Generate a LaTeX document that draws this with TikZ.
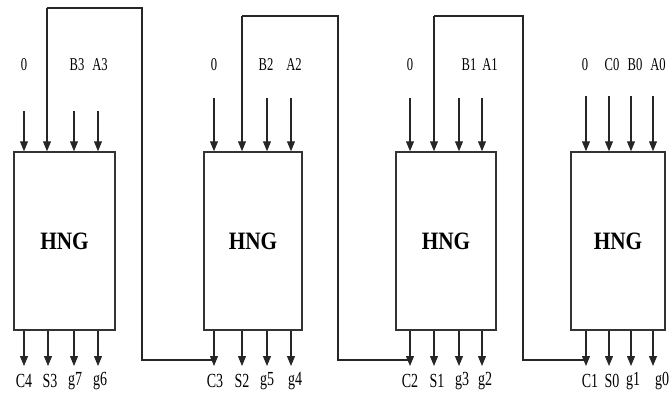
\documentclass[tikz,border=0pt]{standalone}
\usepackage{fontspec}
\setmainfont{Liberation Serif}
\newfontfamily\sigfont[FakeStretch=0.7]{Liberation Serif}
\newfontfamily\hngfont[FakeStretch=0.85]{Liberation Serif}
\usetikzlibrary{arrows.meta}

\begin{document}
\begin{tikzpicture}[x=1pt, y=-1pt,
		hng/.style={draw=black!80, line width=1.5pt, minimum height=178pt, inner sep=0pt,
			font=\hngfont\fontsize{25}{27}\selectfont\bfseries},
		sig/.style={inner sep=1pt, font=\sigfont\fontsize{18}{20}\selectfont},
		sigout/.style={sig, font=\sigfont\fontsize{20}{22}\selectfont},
		pin/.style={draw=black!85, line width=1.1pt, -{Triangle[length=10pt,width=8pt]}},
		wire/.style={draw=black!85, line width=1.3pt}]
		\useasboundingbox (0,0) rectangle (670,397);
		
		% The four HNG cells
		\node[hng, minimum width=101pt] (hngA) at (64.5,241) {HNG};
		\node[hng, minimum width=98pt] (hngB) at (253,241) {HNG};
		\node[hng, minimum width=100pt] (hngC) at (446,241) {HNG};
		\node[hng, minimum width=94pt] (hngD) at (618,241) {HNG};
		
		% Input labels
		\node[sig] (lA1) at (24,65) {0};
		\node[sig] (lA3) at (77,65) {B3};
		\node[sig] (lA4) at (100,65) {A3};
		\node[sig] (lB1) at (214,65) {0};
		\node[sig] (lB3) at (266,65) {B2};
		\node[sig] (lB4) at (294,65) {A2};
		\node[sig] (lC1) at (410,65) {0};
		\node[sig] (lC3) at (469,65) {B1};
		\node[sig] (lC4) at (490,65) {A1};
		\node[sig] (lD1) at (585,65) {0};
		\node[sig] (lD2) at (612,65) {C0};
		\node[sig] (lD3) at (635,65) {B0};
		\node[sig] (lD4) at (658,65) {A0};
		
		% Input arrows
		\foreach \x [count=\i] in {24,47,74,98} \coordinate (inA\i) at (\x,111);
		\foreach \x [count=\i] in {214,242,267,291} \coordinate (inB\i) at (\x,98);
		\foreach \x [count=\i] in {410,434,459,482} \coordinate (inC\i) at (\x,98);
		\foreach \x [count=\i] in {586,609,631,653} \coordinate (inD\i) at (\x,96);
		\foreach \c in {A,B,C} {
			\foreach \i in {1,3,4} \draw[pin] (in\c\i) -- (in\c\i |- hng\c.north);
		}
		\foreach \i in {1,2,3,4} \draw[pin] (inD\i) -- (inD\i |- hngD.north);
		
		% Output arrows
		\foreach \x [count=\i] in {24,48,74,98} \coordinate (outA\i) at (\x,366);
		\foreach \x [count=\i] in {214,242,267,291} \coordinate (outB\i) at (\x,366);
		\foreach \x [count=\i] in {410,434,459,482} \coordinate (outC\i) at (\x,366);
		\foreach \x [count=\i] in {586,609,631,653} \coordinate (outD\i) at (\x,366);
		\foreach \c in {A,B,C,D} {
			\foreach \i in {1,2,3,4} \draw[pin] (out\c\i |- hng\c.south) -- (out\c\i);
		}
		
		% Output labels
		\node[sigout] (oA1) at (24,381) {C4};
		\node[sigout] (oA2) at (50,381) {S3};
		\node[sigout] (oA3) at (75,381) {g7};
		\node[sigout] (oA4) at (100,381) {g6};
		\node[sigout] (oB1) at (215,381) {C3};
		\node[sigout] (oB2) at (242,381) {S2};
		\node[sigout] (oB3) at (267,381) {g5};
		\node[sigout] (oB4) at (295,381) {g4};
		\node[sigout] (oC1) at (410,381) {C2};
		\node[sigout] (oC2) at (437,381) {S1};
		\node[sigout] (oC3) at (462,381) {g3};
		\node[sigout] (oC4) at (485,381) {g2};
		\node[sigout] (oD1) at (590,381) {C1};
		\node[sigout] (oD2) at (612,381) {S0};
		\node[sigout] (oD3) at (633,381) {g1};
		\node[sigout] (oD4) at (662,381) {g0};
		
		% Carry feedback from one cell to the next
		\coordinate (joinB) at (214,360);
		\coordinate (riseA) at (142,8);
		\coordinate (topA) at (47,8);
		\draw[wire] (joinB) -| (riseA) -- (topA);
		\draw[pin] (topA) -- (inA2 |- hngA.north);
		
		\coordinate (joinC) at (410,360);
		\coordinate (riseB) at (338,16);
		\coordinate (topB) at (242,16);
		\draw[wire] (joinC) -| (riseB) -- (topB);
		\draw[pin] (topB) -- (inB2 |- hngB.north);
		
		\coordinate (joinD) at (586,360);
		\coordinate (riseC) at (523,16);
		\coordinate (topC) at (434,16);
		\draw[wire] (joinD) -| (riseC) -- (topC);
		\draw[pin] (topC) -- (inC2 |- hngC.north);
		
	\end{tikzpicture}
\end{document}
